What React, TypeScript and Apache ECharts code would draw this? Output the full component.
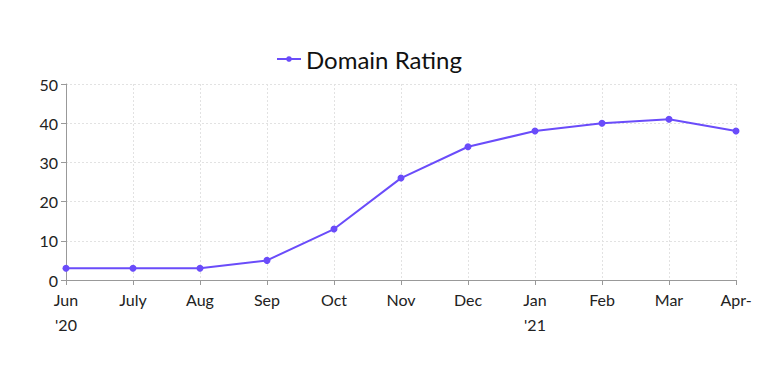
import React, { useEffect, useRef } from "react";
import * as echarts from "echarts";

const categories = ["Jun\n'20", "July", "Aug", "Sep", "Oct", "Nov", "Dec", "Jan\n'21", "Feb", "Mar", "Apr-"];
const domainRating = [3, 3, 3, 5, 13, 26, 34, 38, 40, 41, 38];
const seriesName = "Domain Rating";

export default function App() {
  const ref = useRef<HTMLDivElement>(null);
  useEffect(() => {
    if (!ref.current) return;
    const chart = echarts.init(ref.current, undefined, { renderer: "svg" });
    const font = "Lato, 'Source Sans Pro', sans-serif";
    chart.setOption({
      animation: false,
      textStyle: { fontFamily: font },
      legend: {
        left: 263,
        top: 34,
        itemWidth: 24,
        itemHeight: 7,
        itemGap: 6,
        textStyle: { fontSize: 24, color: "#111", fontFamily: font },
        data: [seriesName],
      },
      grid: { left: 58, right: 24, top: 76, bottom: 98 },
      xAxis: {
        type: "category",
        data: categories,
        boundaryGap: false,
        axisLine: { lineStyle: { color: "#999" } },
        axisTick: { show: true, alignWithLabel: true, lineStyle: { color: "#999" } },
        axisLabel: { color: "#222", fontSize: 16, lineHeight: 25, margin: 7, fontFamily: font, interval: 0 },
        splitLine: { show: true, lineStyle: { color: "#e2e2e2", type: [2, 2] } },
      },
      yAxis: {
        type: "value",
        min: 0,
        max: 50,
        interval: 10,
        axisLine: { show: true, lineStyle: { color: "#999" } },
        axisTick: { show: true, lineStyle: { color: "#999" } },
        axisLabel: { color: "#222", fontSize: 16, margin: 8, fontFamily: font },
        splitLine: { show: true, lineStyle: { color: "#e2e2e2", type: [2, 2] } },
      },
      series: [
        {
          name: seriesName,
          type: "line",
          data: domainRating,
          symbol: "circle",
          symbolSize: 7,
          lineStyle: { width: 2, color: "#6a4cfa" },
          itemStyle: { color: "#6a4cfa" },
        },
      ],
    });
    return () => chart.dispose();
  }, []);
  return <div ref={ref} style={{ width: 752, height: 370 }} />;
}
